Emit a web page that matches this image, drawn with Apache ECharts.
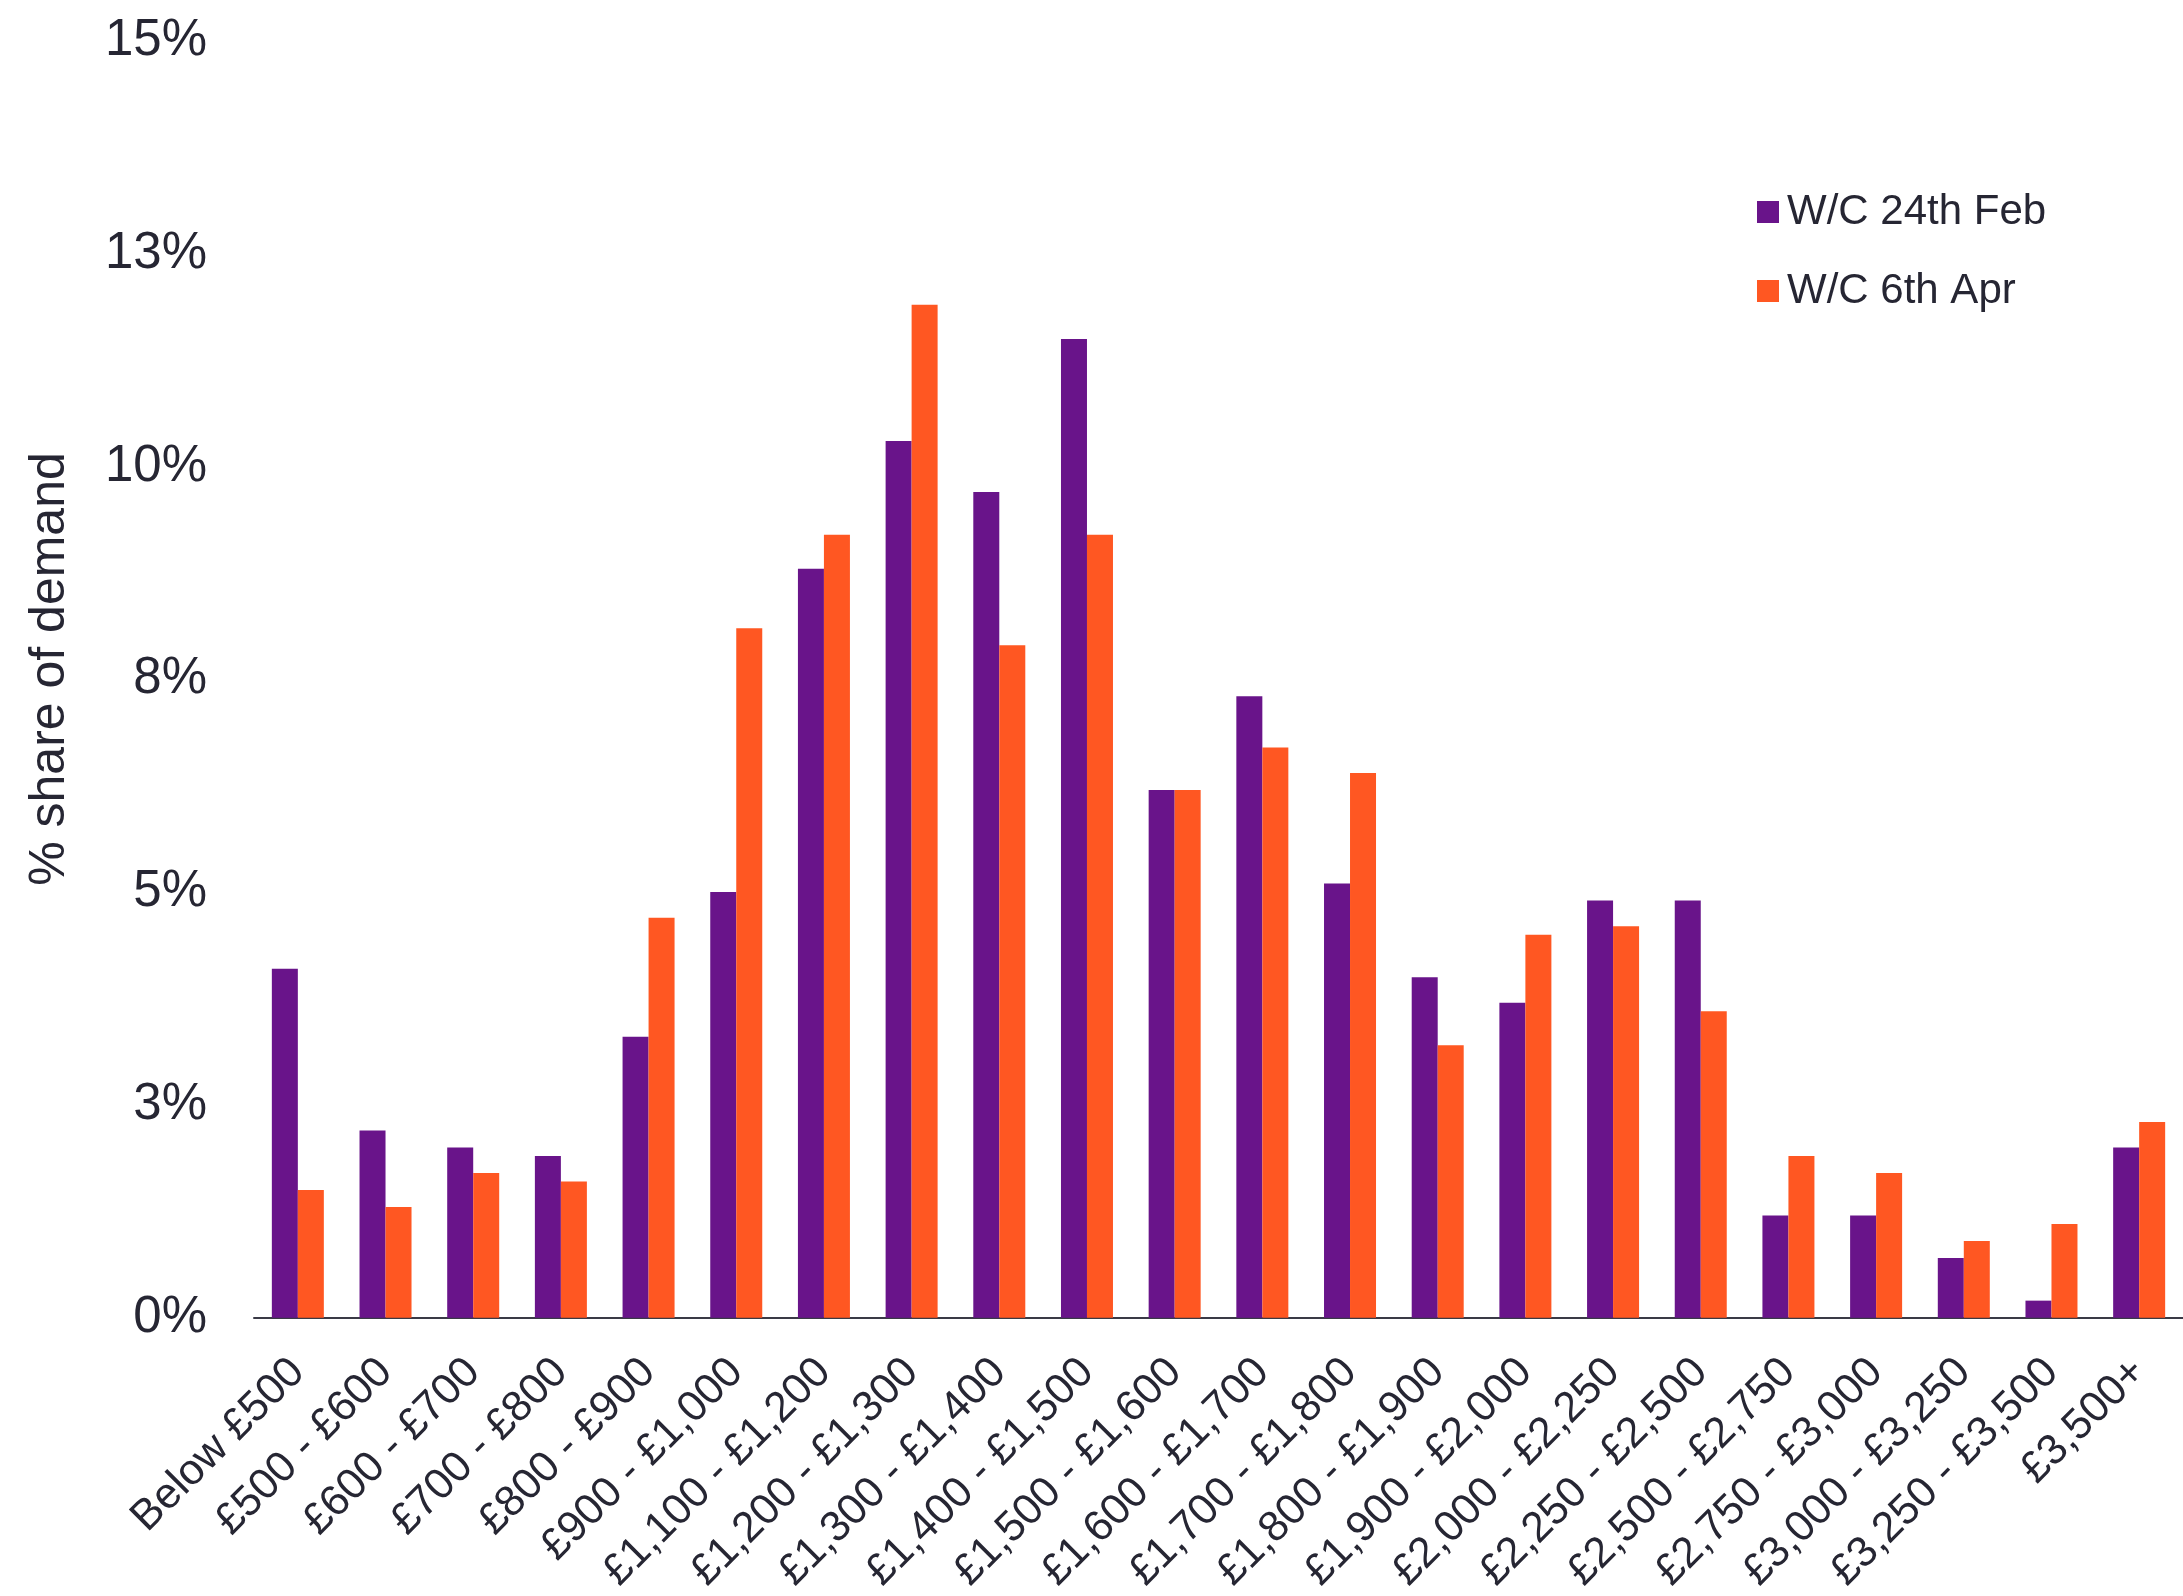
<!DOCTYPE html>
<html>
<head>
<meta charset="utf-8">
<title>% share of demand by rent band</title>
<script src="https://cdn.jsdelivr.net/npm/echarts@6/dist/echarts.min.js"></script>
<style>
  html, body { margin: 0; padding: 0; background: #ffffff; overflow: hidden; }
  #chart { width: 2183px; height: 1596px; }
</style>
</head>
<body>
<div id="chart"></div>
<script>
// Rent bands (monthly)
const categories = [
  'Below £500', '£500 - £600', '£600 - £700', '£700 - £800', '£800 - £900',
  '£900 - £1,000', '£1,100 - £1,200', '£1,200 - £1,300', '£1,300 - £1,400',
  '£1,400 - £1,500', '£1,500 - £1,600', '£1,600 - £1,700', '£1,700 - £1,800',
  '£1,800 - £1,900', '£1,900 - £2,000', '£2,000 - £2,250', '£2,250 - £2,500',
  '£2,500 - £2,750', '£2,750 - £3,000', '£3,000 - £3,250', '£3,250 - £3,500',
  '£3,500+'
];

// Share of demand (%) per band
const weekFeb24 = [4.1, 2.2, 2.0, 1.9, 3.3, 5.0, 8.8, 10.3, 9.7, 11.5, 6.2,
                   7.3, 5.1, 4.0, 3.7, 4.9, 4.9, 1.2, 1.2, 0.7, 0.2, 2.0];
const weekApr6  = [1.5, 1.3, 1.7, 1.6, 4.7, 8.1, 9.2, 11.9, 7.9, 9.2, 6.2,
                   6.7, 6.4, 3.2, 4.5, 4.6, 3.6, 1.9, 1.7, 0.9, 1.1, 2.3];

const seriesNames = ['W/C 24th Feb', 'W/C 6th Apr'];

// Value axis ticks and their printed labels
const yTicks = [0, 2.5, 5, 7.5, 10, 12.5, 15];
const yTickLabels = ['0%', '3%', '5%', '8%', '10%', '13%', '15%'];

const TEXT = '#262633';
const PURPLE = '#69148A';
const ORANGE = '#FF5722';
const FONT = 'Liberation Sans, Arial, Helvetica, sans-serif';

const chart = echarts.init(document.getElementById('chart'), null, { renderer: 'canvas' });

chart.setOption({
  animation: false,
  backgroundColor: '#ffffff',
  textStyle: { fontFamily: FONT, color: TEXT },
  grid: { left: 254, top: 41, width: 1942, height: 1289, containLabel: false },
  legend: {
    orient: 'vertical',
    left: 1752,
    top: 186,
    itemWidth: 22,
    itemHeight: 22,
    itemGap: 37,
    icon: 'rect',
    textStyle: { fontFamily: FONT, fontSize: 42, color: TEXT, padding: [0, 0, 0, 3] },
    data: seriesNames
  },
  xAxis: {
    type: 'category',
    data: categories,
    axisLine: { show: true, lineStyle: { color: '#3a3a46', width: 2 } },
    axisTick: { show: false },
    axisLabel: {
      interval: 0,
      rotate: 45,
      margin: 48,
      fontSize: 43,
      fontFamily: FONT,
      color: TEXT
    },
    splitLine: { show: false }
  },
  yAxis: {
    type: 'value',
    min: yTicks[0],
    max: yTicks[yTicks.length - 1],
    interval: yTicks[1] - yTicks[0],
    axisLine: { show: false },
    axisTick: { show: false },
    splitLine: { show: false },
    axisLabel: {
      margin: 47,
      fontSize: 51,
      fontFamily: FONT,
      color: TEXT,
      formatter: function (v) {
        const i = yTicks.indexOf(v);
        return i >= 0 ? yTickLabels[i] : '';
      }
    }
  },
  graphic: [{
    type: 'text',
    x: 50,
    y: 669,
    rotation: Math.PI / 2,
    style: {
      text: '% share of demand',
      font: '50px ' + FONT,
      fill: TEXT,
      align: 'center',
      verticalAlign: 'middle'
    }
  }],
  series: [
    {
      name: seriesNames[0],
      type: 'bar',
      data: weekFeb24,
      barWidth: 26,
      barGap: '0%',
      itemStyle: { color: PURPLE }
    },
    {
      name: seriesNames[1],
      type: 'bar',
      data: weekApr6,
      barWidth: 26,
      barGap: '0%',
      itemStyle: { color: ORANGE }
    }
  ]
});
</script>
</body>
</html>
